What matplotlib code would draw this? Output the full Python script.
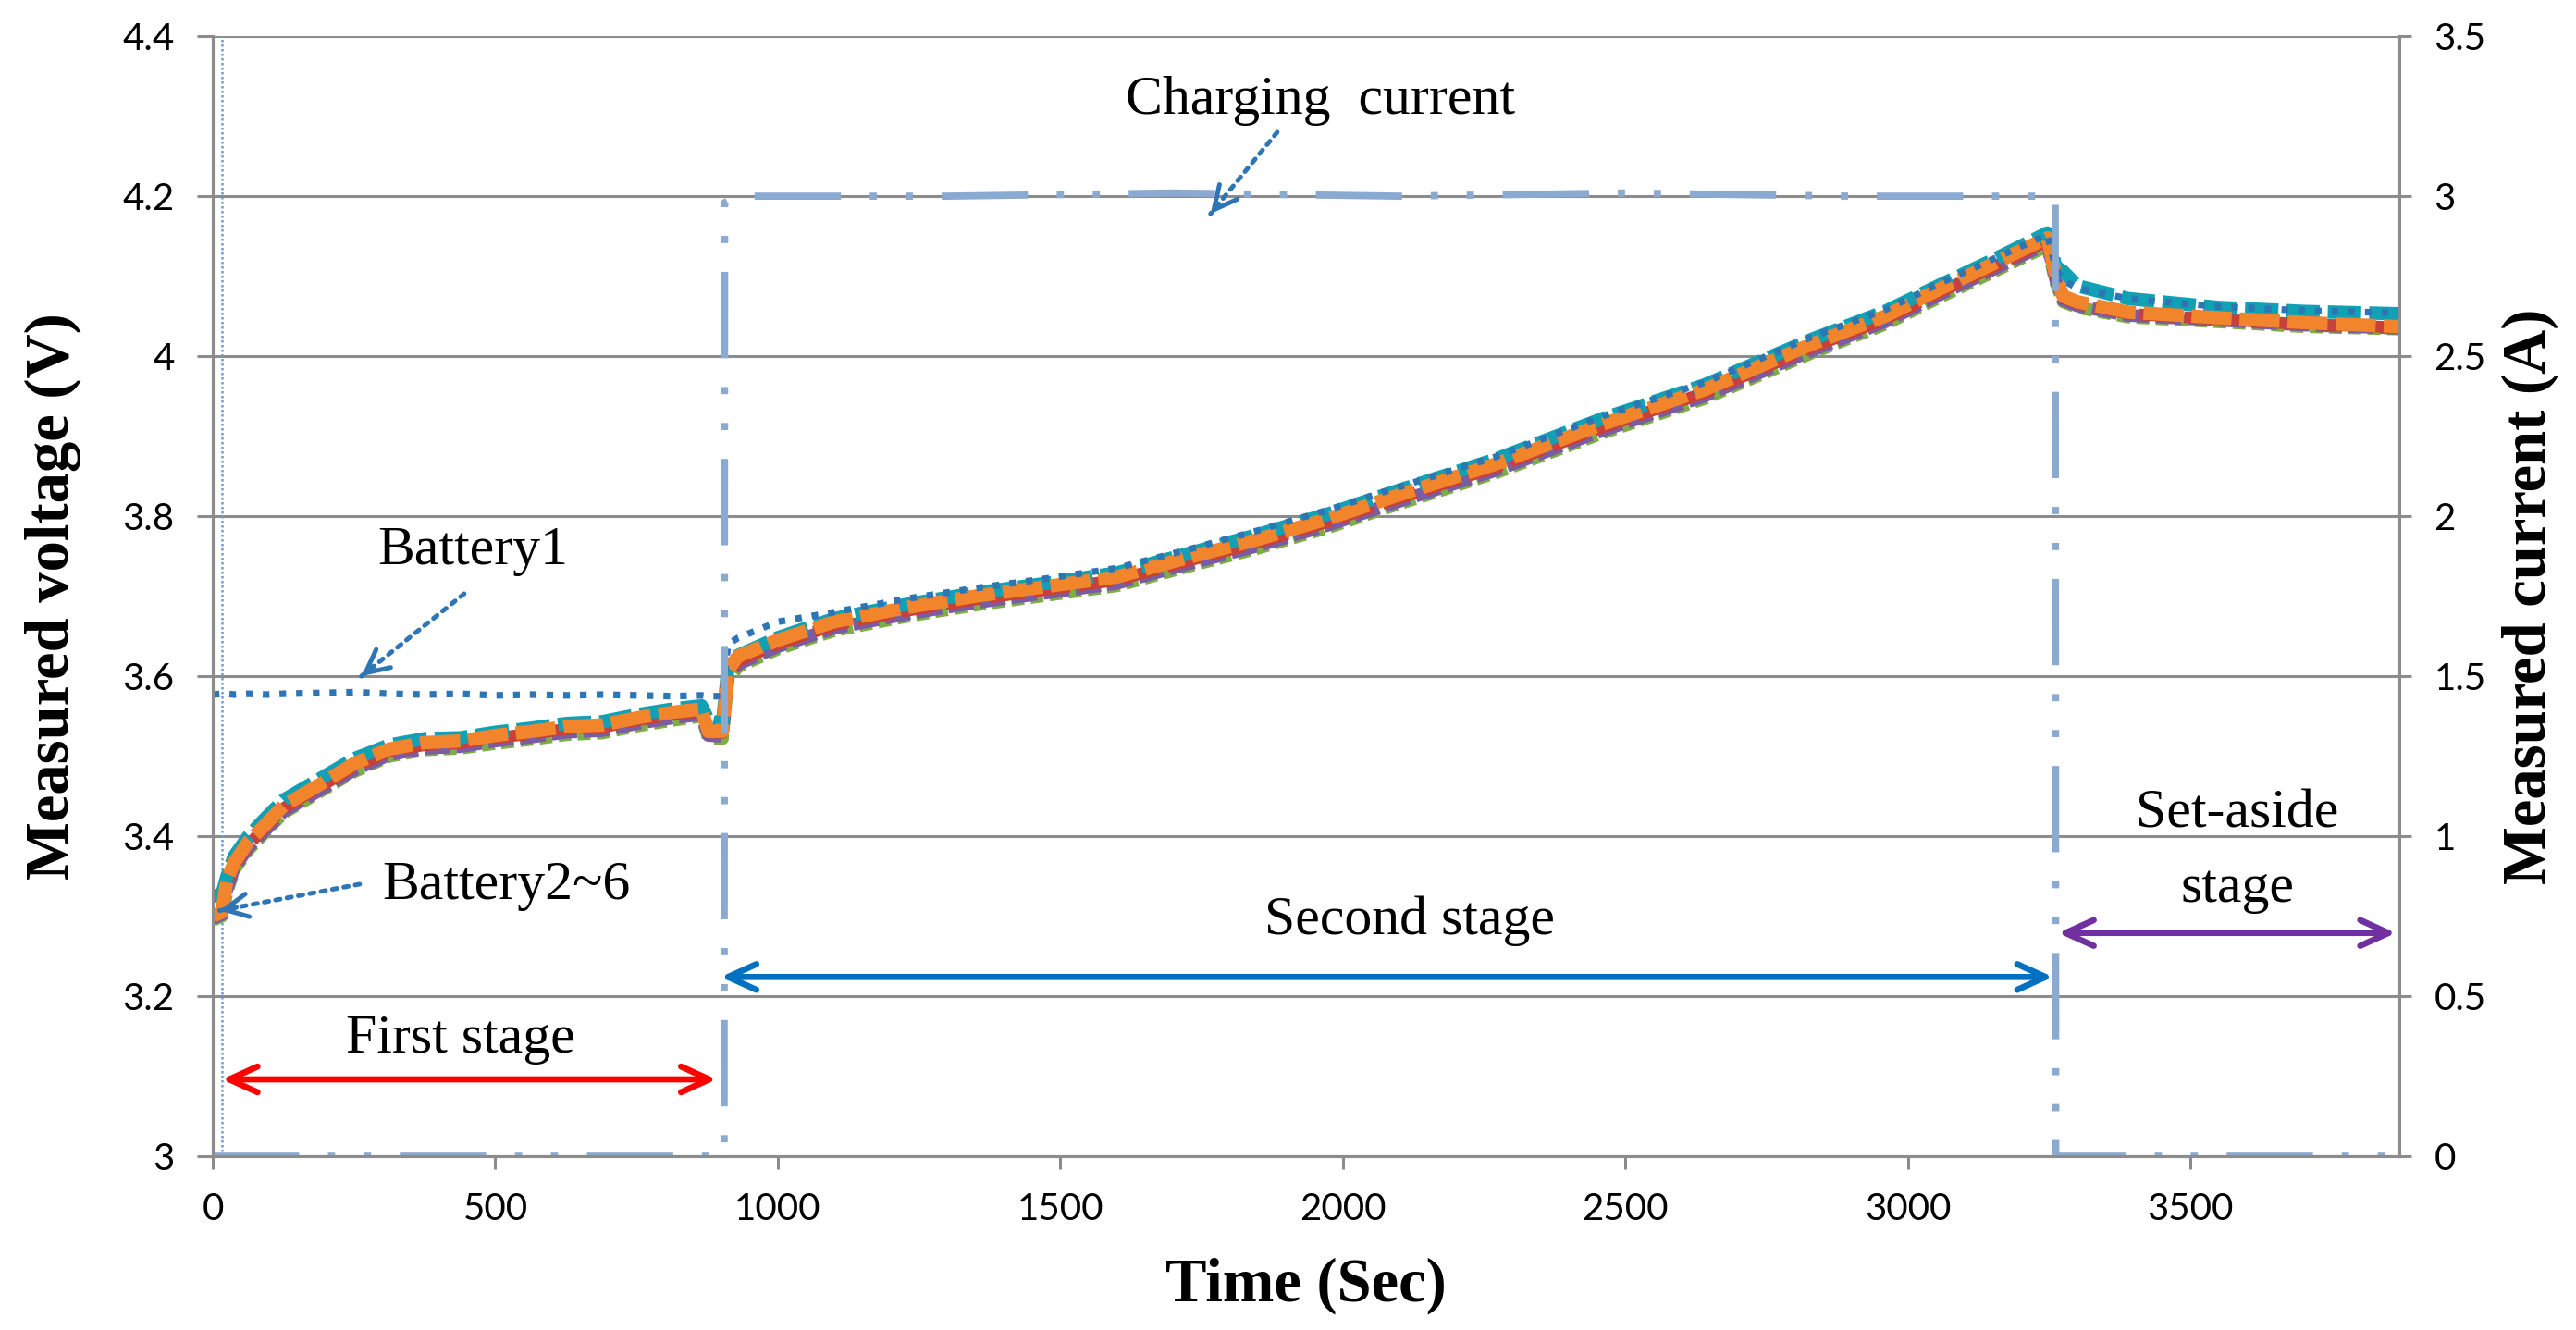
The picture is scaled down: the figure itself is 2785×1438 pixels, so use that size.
import matplotlib

matplotlib.use("Agg")
import matplotlib.pyplot as plt
from matplotlib import font_manager

# time axis (s) shared by the six battery traces
time_s = [0, 16, 25, 38, 63, 94, 125, 188, 251, 313, 376, 438, 501, 564, 627,
          689, 752, 815, 865, 877, 902, 912, 930, 1000, 1100, 1230, 1350, 1475,
          1600, 1725, 1850, 1975, 2080, 2270, 2460, 2640, 2830, 2960, 3060, 3150,
          3247, 3262, 3275, 3300, 3390, 3550, 3700, 3870]

battery1 = [3.577, 3.578, 3.578, 3.577, 3.578, 3.577, 3.578, 3.579, 3.580, 3.578,
            3.577, 3.578, 3.576, 3.577, 3.576, 3.577, 3.576, 3.575, 3.576, 3.575,
            3.575, 3.640, 3.648, 3.668, 3.680, 3.697, 3.710, 3.722, 3.735, 3.758,
            3.782, 3.808, 3.832, 3.874, 3.925, 3.967, 4.024, 4.058, 4.092, 4.121,
            4.152, 4.110, 4.095, 4.085, 4.072, 4.062, 4.057, 4.054]
battery2 = [3.325, 3.327, 3.350, 3.375, 3.400, 3.423, 3.445, 3.471, 3.497, 3.514,
            3.522, 3.523, 3.530, 3.535, 3.541, 3.543, 3.552, 3.559, 3.563, 3.545,
            3.540, 3.612, 3.626, 3.648, 3.672, 3.690, 3.704, 3.716, 3.729, 3.753,
            3.777, 3.803, 3.828, 3.871, 3.922, 3.964, 4.021, 4.056, 4.090, 4.120,
            4.154, 4.112, 4.106, 4.088, 4.072, 4.061, 4.056, 4.053]
battery3 = [3.300, 3.304, 3.340, 3.364, 3.389, 3.412, 3.435, 3.461, 3.487, 3.506,
            3.514, 3.516, 3.523, 3.528, 3.534, 3.536, 3.545, 3.552, 3.556, 3.530,
            3.529, 3.604, 3.619, 3.640, 3.664, 3.682, 3.696, 3.708, 3.720, 3.744,
            3.767, 3.793, 3.818, 3.861, 3.911, 3.954, 4.011, 4.046, 4.081, 4.111,
            4.144, 4.098, 4.073, 4.066, 4.053, 4.046, 4.040, 4.036]
battery4 = [3.295, 3.300, 3.330, 3.358, 3.383, 3.406, 3.429, 3.455, 3.481, 3.500,
            3.508, 3.510, 3.516, 3.521, 3.527, 3.529, 3.538, 3.545, 3.550, 3.523,
            3.522, 3.596, 3.612, 3.634, 3.657, 3.675, 3.689, 3.701, 3.713, 3.737,
            3.760, 3.786, 3.811, 3.854, 3.904, 3.947, 4.004, 4.040, 4.075, 4.105,
            4.138, 4.092, 4.068, 4.061, 4.049, 4.043, 4.037, 4.034]
battery5 = [3.297, 3.302, 3.334, 3.360, 3.386, 3.408, 3.431, 3.457, 3.483, 3.502,
            3.510, 3.512, 3.519, 3.524, 3.530, 3.532, 3.541, 3.548, 3.552, 3.526,
            3.525, 3.600, 3.615, 3.637, 3.660, 3.678, 3.692, 3.704, 3.716, 3.740,
            3.763, 3.789, 3.814, 3.857, 3.907, 3.950, 4.007, 4.043, 4.078, 4.108,
            4.141, 4.095, 4.070, 4.063, 4.051, 4.045, 4.039, 4.035]
battery6 = [3.300, 3.305, 3.345, 3.367, 3.393, 3.415, 3.438, 3.464, 3.491, 3.509,
            3.517, 3.519, 3.526, 3.531, 3.537, 3.539, 3.548, 3.555, 3.559, 3.531,
            3.531, 3.608, 3.625, 3.645, 3.668, 3.686, 3.700, 3.712, 3.724, 3.748,
            3.771, 3.797, 3.822, 3.865, 3.915, 3.958, 4.015, 4.050, 4.085, 4.115,
            4.148, 4.100, 4.075, 4.068, 4.055, 4.048, 4.042, 4.037]

current_time_s = [0, 905, 906, 930, 1300, 1700, 2100, 2500, 2900, 3261, 3262, 3870]
current_a = [0.0, 0.0, 2.98, 3.0, 3.0, 3.01, 3.0, 3.01, 3.0, 3.0, 0.0, 0.0]

marker_line_s = 16

x_ticks = [0, 500, 1000, 1500, 2000, 2500, 3000, 3500]
v_ticks = [3.0, 3.2, 3.4, 3.6, 3.8, 4.0, 4.2, 4.4]
v_labels = ["3", "3.2", "3.4", "3.6", "3.8", "4", "4.2", "4.4"]
a_ticks = [0, 0.5, 1, 1.5, 2, 2.5, 3, 3.5]
a_labels = ["0", "0.5", "1", "1.5", "2", "2.5", "3", "3.5"]

names = {f.name for f in font_manager.fontManager.ttflist}
TICK_FONT = next((n for n in ("Liberation Sans Narrow", "Lato", "Roboto") if n in names),
                 "DejaVu Sans")
SERIF = "Liberation Serif"
GRID = "#8C8C8C"

fig = plt.figure(figsize=(13.925, 7.19), dpi=200)
ax = fig.add_axes([0.0826, 0.1307, 0.8488, 0.8421])
ax2 = ax.twinx()

ax.set_xlim(0, 3870)
ax.set_ylim(3.0, 4.4)
ax2.set_ylim(0, 3.5)

ax.yaxis.grid(True, color=GRID, linewidth=1.1)
ax.set_axisbelow(True)

ax.axvline(marker_line_s, color="#6E9FD4", linewidth=0.9, linestyle=(0, (1, 1)))

ax.plot(time_s, battery4, color="#7DAE45", linewidth=5.0, linestyle=(0, (1, 0.5)))
ax.plot(time_s, battery5, color="#7A5CA5", linewidth=5.0, linestyle=(0, (2, 0.5)))
ax.plot(time_s, battery3, color="#C8403A", linewidth=4.6, linestyle=(0, (3, 0.8)))
ax.plot(time_s, battery2, color="#12A0B5", linewidth=5.2, linestyle=(0, (2.5, 0.6)))
ax.plot(time_s, battery6, color="#F2842C", linewidth=5.2, linestyle=(0, (3, 0.6)))
ax.plot(time_s, battery1, color="#2E75B6", linewidth=2.6, linestyle=(0, (1, 1.5)))

ax2.plot(current_time_s, current_a, color="#8AAAD2", linewidth=2.8,
         linestyle=(0, (12, 4, 1, 4, 1, 4)))

ax.spines["top"].set_visible(False)
ax2.spines["top"].set_visible(False)
for a in (ax, ax2):
    for side in ("left", "right", "bottom"):
        a.spines[side].set_color(GRID)
        a.spines[side].set_linewidth(1.1)

ax.set_xticks(x_ticks)
ax.set_yticks(v_ticks)
ax.set_yticklabels(v_labels)
ax2.set_yticks(a_ticks)
ax2.set_yticklabels(a_labels)
ax.tick_params(axis="x", direction="out", length=5, width=1.1, color=GRID, pad=9,
               labelsize=14.5)
ax.tick_params(axis="y", direction="out", length=6, width=1.1, color=GRID, pad=9,
               labelsize=14.5)
ax2.tick_params(axis="y", direction="out", length=4.5, width=1.1, color=GRID, pad=9,
                labelsize=14.5)
for lab in ax.get_xticklabels() + ax.get_yticklabels() + ax2.get_yticklabels():
    lab.set_family([TICK_FONT, "DejaVu Sans"])

ax.set_xlabel("Time (Sec)", family=SERIF, fontweight="bold", fontsize=24, labelpad=12)
ax.set_ylabel("Measured voltage (V)", family=SERIF, fontweight="bold", fontsize=24,
              labelpad=16)
ax2.set_ylabel("Measured current (A)", family=SERIF, fontweight="bold", fontsize=24,
               labelpad=6)

txt = dict(family=SERIF, fontsize=21.5, ha="center", va="center")
ax.text(1961, 4.319, "Charging  current", **txt)
ax.text(460, 3.756, "Battery1", **txt)
ax.text(520, 3.338, "Battery2~6", **txt)
ax.text(439, 3.146, "First stage", **txt)
ax.text(2119, 3.294, "Second stage", **txt)
ax.text(3583, 3.427, "Set-aside", **txt)
ax.text(3583, 3.334, "stage", **txt)

# dotted pointers with solid open heads
pointers = [((1884, 4.28), (1766, 4.178)), ((445, 3.703), (263, 3.600)),
            ((260, 3.340), (12, 3.307))]
for start, end in pointers:
    ax.annotate("", xy=end, xytext=start,
                arrowprops=dict(arrowstyle="-", color="#2E75B6", lw=1.8,
                                linestyle=(0, (1, 1.5)), shrinkA=0, shrinkB=0))
    dx = (end[0] - start[0]) * 0.12
    dy = (end[1] - start[1]) * 0.12
    ax.annotate("", xy=end, xytext=(end[0] - dx, end[1] - dy),
                arrowprops=dict(arrowstyle="->,head_length=0.9,head_width=0.45",
                                color="#2E75B6", lw=1.8, shrinkA=0, shrinkB=0))

spans = [(16, 892, 3.096, "#FF0000"), (899, 3257, 3.224, "#0070C0"),
         (3266, 3864, 3.279, "#7030A0")]
for x0, x1, y, col in spans:
    ax.annotate("", xy=(x1, y), xytext=(x0, y),
                arrowprops=dict(arrowstyle="<->,head_length=1.1,head_width=0.5",
                                color=col, lw=2.4, shrinkA=0, shrinkB=0))

fig.savefig("out.png", dpi=200)
